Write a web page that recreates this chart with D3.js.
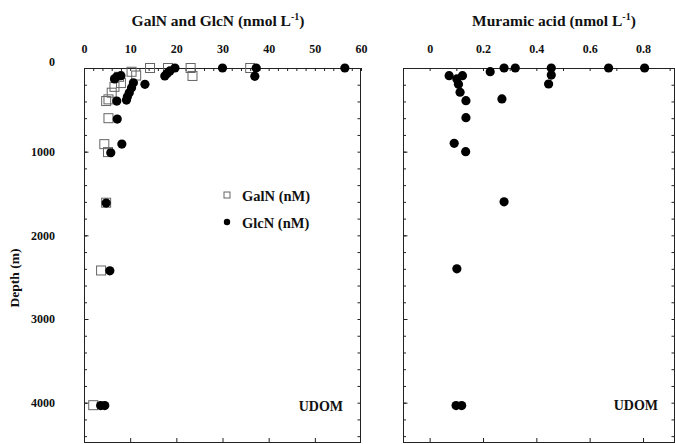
<!DOCTYPE html>
<html><head><meta charset="utf-8">
<script src="https://cdn.jsdelivr.net/npm/d3@7"></script>
<style>
body{margin:0;background:#fff;}
svg text{font-family:"Liberation Serif","Times New Roman",serif;font-weight:bold;fill:#111;}
</style></head>
<body>
<svg id="chart" width="675" height="444"></svg>
<script>
// ---- data ----
const depthTicks = [0, 1000, 2000, 3000, 4000];
const aminoTicks = [0, 10, 20, 30, 40, 50, 60];
const muramicTicks = [0, 0.2, 0.4, 0.6, 0.8];

const galnValues = [14.3, 18.2, 23.1, 23.5, 36.0, 10.3, 11.3, 7.6, 8.0, 6.6, 6.0, 5.3, 4.8, 5.3, 4.4, 5.2, 4.8, 3.7, 2.0];
const galnDepths = [0, 0, 0, 95, 0, 45, 90, 105, 180, 225, 295, 375, 395, 600, 910, 1005, 1610, 2420, 4030];

const glcnValues = [19.7, 18.6, 18.0, 17.5, 30.0, 37.3, 37.0, 56.5, 6.6, 7.1, 8.0, 10.7, 10.3, 9.8, 9.4, 9.2, 13.2, 7.1, 7.2, 8.2, 5.8, 4.8, 5.6, 3.6, 4.5];
const glcnDepths = [0, 35, 65, 95, 0, 0, 100, 0, 130, 105, 92, 176, 235, 295, 345, 383, 195, 395, 610, 909, 1013, 1614, 2424, 4035, 4035];

const muramicValues = [0.073, 0.102, 0.123, 0.108, 0.114, 0.136, 0.136, 0.092, 0.135, 0.227, 0.279, 0.321, 0.456, 0.456, 0.446, 0.271, 0.671, 0.806, 0.279, 0.102, 0.099, 0.120];
const muramicDepths = [92, 131, 92, 195, 290, 390, 594, 900, 1000, 44, 0, 0, 0, 84, 191, 370, 0, 0, 1600, 2400, 4035, 4035];

const seriesNames = ["GalN (nM)", "GlcN (nM)"];
const panelLabel = "UDOM";

// ---- layout ----
const svg = d3.select("#chart");
const plotTop = 68, plotBottom = 442;
const y = d3.scaleLinear().domain([0, 4470]).range([plotTop, plotBottom]);
const xL = d3.scaleLinear().domain([0, 60]).range([84, 361]);
const xR = d3.scaleLinear().domain([-0.1, 0.92]).range([403, 675]);
const ink = "#222";
const tickFont = 12;

function frame(x, majors, fmt, minorStep, bottomTicks, yLabels) {
  const [x0, x1] = x.range();
  const g = svg.append("g");
  const ax = d3.axisTop(x).tickValues(majors).tickSize(0).tickPadding(15).tickFormat(fmt);
  const ga = g.append("g").attr("transform", `translate(0,${plotTop})`).call(ax);
  ga.select(".domain").remove();
  ga.selectAll("text").attr("font-size", tickFont).style("font-family", "Liberation Serif").style("font-weight", "bold").attr("fill", "#111");
  const d = x.domain();
  const minors = d3.range(Math.ceil(d[0] / minorStep - 1e-9) * minorStep, d[1] + 1e-9, minorStep);
  const gm = g.append("g").attr("transform", `translate(0,${plotTop})`)
    .call(d3.axisTop(x).tickValues(minors).tickSizeInner(-3).tickSizeOuter(0).tickFormat(""));
  gm.select(".domain").remove();
  gm.selectAll("line").attr("stroke", ink);
  const gb = g.append("g").attr("transform", `translate(0,${plotBottom})`)
    .call(d3.axisBottom(x).tickValues(bottomTicks).tickSizeInner(-4).tickSizeOuter(0).tickFormat(""));
  gb.select(".domain").remove();
  gb.selectAll("line").attr("stroke", ink);
  const depthMinor = d3.range(0, 4470, 200);
  const gl = g.append("g").attr("transform", `translate(${x0},0)`)
    .call(d3.axisLeft(y).tickValues(depthMinor).tickSizeInner(-3).tickSizeOuter(0).tickFormat(""));
  gl.select(".domain").remove();
  gl.selectAll("line").attr("stroke", ink);
  const gl2 = g.append("g").attr("transform", `translate(${x0},0)`)
    .call(d3.axisLeft(y).tickValues(depthTicks).tickSizeInner(-4.5).tickSizeOuter(0).tickPadding(29)
      .tickFormat(yLabels ? d3.format("d") : ""));
  gl2.select(".domain").remove();
  gl2.selectAll("line").attr("stroke", ink);
  gl2.selectAll("text").attr("font-size", tickFont).style("font-family", "Liberation Serif").style("font-weight", "bold").attr("fill", "#111")
    .attr("y", dv => dv === 0 ? -6 : 0);
  const gr = g.append("g").attr("transform", `translate(${x1 - 0.5},0)`)
    .call(d3.axisRight(y).tickValues(depthMinor).tickSizeInner(-3).tickSizeOuter(0).tickFormat(""));
  gr.select(".domain").remove();
  gr.selectAll("line").attr("stroke", ink);
  g.append("rect").attr("x", x0 + 0.5).attr("y", plotTop + 0.5)
    .attr("width", x1 - x0 - 1).attr("height", plotBottom - plotTop)
    .attr("fill", "none").attr("stroke", ink).attr("stroke-width", 1);
}

frame(xL, aminoTicks, d3.format("d"), 2, [10, 20, 30, 40, 50], true);
frame(xR, muramicTicks, (d => d === 0 ? "0" : d3.format(".1f")(d)), 0.1, muramicTicks, false);

function title(cx, main) {
  const t = svg.append("text").attr("x", cx).attr("y", 26).attr("text-anchor", "middle").attr("font-size", 15.5);
  t.append("tspan").text(main);
  t.append("tspan").attr("font-size", 10).attr("dy", -6).text("-1");
  t.append("tspan").attr("dy", 6).text(")");
}
title(218, "GalN and GlcN (nmol L");
title(554, "Muramic acid (nmol L");

svg.append("text").attr("transform", "translate(19,278) rotate(-90)")
  .attr("text-anchor", "middle").attr("font-size", 13.5).text("Depth (m)");

svg.append("g").selectAll("rect").data(galnValues).join("rect")
  .attr("x", (v) => xL(v) - 4.5).attr("y", (v, i) => y(galnDepths[i]) - 4.5)
  .attr("width", 9).attr("height", 9)
  .attr("fill", "none").attr("stroke", "#666").attr("stroke-width", 1);
svg.append("g").selectAll("circle").data(glcnValues).join("circle")
  .attr("cx", v => xL(v)).attr("cy", (v, i) => y(glcnDepths[i])).attr("r", 4.6).attr("fill", "#000");
svg.append("g").selectAll("circle").data(muramicValues).join("circle")
  .attr("cx", v => xR(v)).attr("cy", (v, i) => y(muramicDepths[i])).attr("r", 4.6).attr("fill", "#000");

const lg = svg.append("g");
lg.append("rect").attr("x", 224).attr("y", 192).attr("width", 6).attr("height", 6)
  .attr("fill", "none").attr("stroke", "#666");
lg.append("circle").attr("cx", 227).attr("cy", 222).attr("r", 3.2).attr("fill", "#000");
lg.append("text").attr("x", 242).attr("y", 201).attr("font-size", 14.5).text(seriesNames[0]);
lg.append("text").attr("x", 242).attr("y", 228).attr("font-size", 14.5).text(seriesNames[1]);

svg.append("text").attr("x", 343).attr("y", 411).attr("text-anchor", "end").attr("font-size", 14).text(panelLabel);
svg.append("text").attr("x", 658).attr("y", 410).attr("text-anchor", "end").attr("font-size", 14).text(panelLabel);
</script>
</body></html>
